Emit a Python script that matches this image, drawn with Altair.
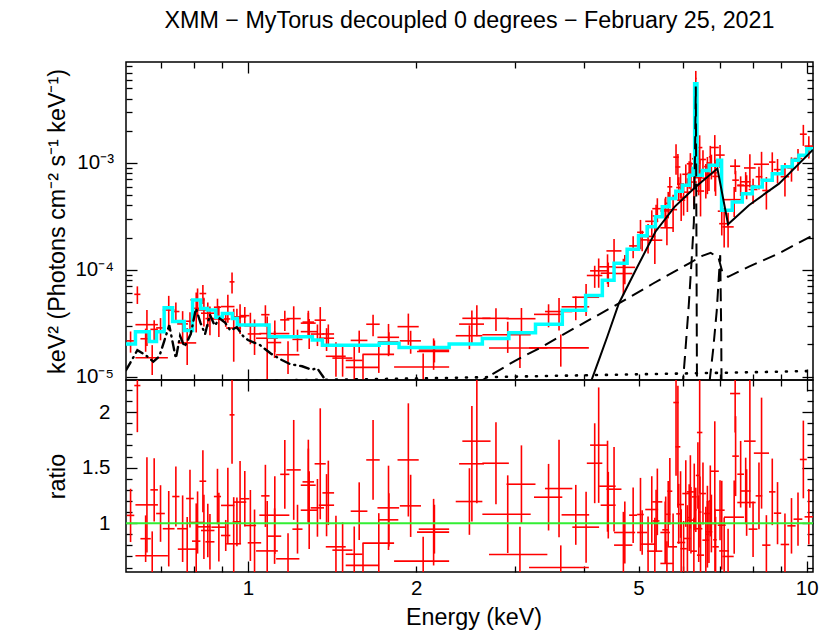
import altair as alt
import numpy as np
import pandas as pd

FONT = "Liberation Sans"
TITLE = "XMM \u2212 MyTorus decoupled 0 degrees \u2212 February 25, 2021"
Y_TITLE = "keV\u00b2 (Photons cm\u207b\u00b2 s\u207b\u00b9 keV\u207b\u00b9)"

# ---------------- data ----------------
# red crosses: energy bin edges (keV), data/model ratio and its error
E_LO = [0.607, 0.626, 0.629, 0.629, 0.642, 0.669, 0.685, 0.704, 0.732, 0.747,
        0.749, 0.775, 0.794, 0.789, 0.819, 0.811, 0.839, 0.824, 0.869, 0.860,
        0.895, 0.895, 0.927, 0.914, 0.939, 0.943, 0.968, 0.986, 0.999, 1.056,
        1.034, 1.048, 1.085, 1.142, 1.123, 1.172, 1.201, 1.243, 1.252, 1.243,
        1.295, 1.316, 1.339, 1.359, 1.378, 1.416, 1.496, 1.496, 1.527, 1.603,
        1.628, 1.705, 1.717, 1.852, 1.870, 1.826, 2.021, 2.007, 2.387, 2.354,
        2.419, 2.627, 2.902, 2.627, 2.700, 3.184, 3.250, 3.400, 3.641, 3.806,
        4.095, 4.040, 4.250, 4.380, 4.277, 4.520, 4.520, 4.810, 4.970, 4.970,
        5.040, 5.140, 5.180, 5.291, 5.470, 5.514, 5.470, 5.630, 5.670, 5.770,
        5.820, 5.840, 5.860, 5.860, 5.940, 5.988, 6.030, 6.100, 6.100, 6.200,
        6.230, 6.360, 6.330, 6.310, 6.310, 6.360, 6.440, 6.504, 6.550, 6.590,
        6.640, 6.730, 6.776, 6.860, 6.930, 6.970, 7.062, 7.110, 7.290, 7.357,
        7.510, 7.510, 7.720, 7.620, 7.870, 8.040, 8.100, 8.324, 8.560, 8.730,
        8.980, 9.230, 9.470, 9.720, 9.910, 6.120, 6.400, 6.600, 6.680, 6.800,
        5.600, 5.300]
E_HI = [0.626, 0.642, 0.690, 0.719, 0.670, 0.690, 0.710, 0.739, 0.754, 0.781,
        0.808, 0.800, 0.822, 0.836, 0.842, 0.857, 0.871, 0.871, 0.895, 0.914,
        0.930, 0.946, 0.946, 0.972, 0.972, 0.993, 1.006, 1.034, 1.056, 1.093,
        1.131, 1.186, 1.147, 1.186, 1.236, 1.243, 1.252, 1.322, 1.313, 1.331,
        1.368, 1.378, 1.426, 1.426, 1.496, 1.538, 1.603, 1.717, 1.636, 1.826,
        1.721, 1.864, 1.858, 2.021, 2.040, 2.291, 2.291, 2.291, 2.645, 2.627,
        2.717, 2.930, 3.270, 3.206, 3.434, 4.074, 3.652, 3.806, 4.080, 4.250,
        4.390, 4.307, 4.550, 4.660, 4.550, 4.930, 4.874, 4.970, 5.110, 5.180,
        5.360, 5.420, 5.514, 5.514, 5.690, 5.670, 5.770, 5.746, 5.860, 5.900,
        5.940, 5.960, 6.060, 6.030, 6.100, 6.160, 6.200, 6.280, 6.310, 6.360,
        6.350, 6.504, 6.440, 6.350, 6.504, 6.550, 6.600, 6.690, 6.730, 6.776,
        6.860, 6.960, 6.960, 7.130, 7.160, 7.260, 7.400, 7.720, 7.600, 7.560,
        7.720, 8.100, 8.100, 7.930, 8.160, 8.560, 8.324, 8.610, 8.790, 9.000,
        9.300, 9.550, 9.820, 10.00, 10.26, 6.200, 6.480, 6.680, 6.760, 6.900,
        5.700, 5.450]
RATIO = [1.07, 2.24, 1.165, 0.706, 0.86, 1.30, 1.087, 0.95, 1.24, 0.95,
         0.766, 1.222, 0.838, 1.006, 1.378, 0.967, 0.832, 0.934, 1.24, 0.964,
         0.889, 1.16, 1.976, 0.814, 1.012, 1.19, 1.22, 0.979, 0.823, 1.246,
         0.75, 1.072, 0.883, 1.44, 0.679, 1.48, 0.946, 1.342, 1.372, 1.117,
         1.138, 1.535, 1.162, 1.273, 0.787, 0.757, 0.72, 0.62, 1.108, 0.82,
         1.57, 1.138, 1.03, 1.57, 1.156, 0.658, 0.946, 0.919, 1.535, 1.195,
         1.739, 1.54, 1.351, 1.081, 0.718, 0.60, 1.234, 1.312, 1.075, 0.964,
         1.703, 1.54, 1.333, 1.306, 1.162, 0.916, 0.802, 1.072, 1.078, 0.916,
         0.811, 1.123, 0.748, 1.192, 0.916, 0.94, 0.637, 1.288, 0.787, 2.087,
         1.688, 1.084, 0.826, 1.168, 0.77, 1.267, 0.862, 1.282, 1.027, 0.748,
         1.237, 1.817, 1.43, 1.12, 0.95, 0.712, 1.267, 0.847, 1.087, 0.922,
         0.997, 1.468, 0.787, 1.117, 0.982, 0.75, 0.70, 1.054, 2.168, 1.604,
         1.441, 1.186, 1.739, 1.29, 0.946, 1.631, 1.246, 0.802, 1.282, 1.09,
         0.808, 0.976, 1.036, 1.574, 1.057, 1.05, 1.10, 0.90, 1.20, 0.85,
         1.08, 1.02]
RATIO_ERR = [0.24, 0.42, 0.43, 0.22, 0.21, 0.285, 0.255, 0.34, 0.27, 0.30,
             0.29, 0.26, 0.34, 0.28, 0.28, 0.29, 0.25, 0.24, 0.25, 0.31,
             0.14, 0.34, 0.44, 0.42, 0.22, 0.37, 0.25, 0.32, 0.30, 0.28,
             0.45, 0.35, 0.25, 0.31, 0.23, 0.45, 0.22, 0.33, 0.38, 0.35,
             0.26, 0.50, 0.28, 0.29, 0.28, 0.25, 0.25, 0.20, 0.26, 0.27,
             0.36, 0.38, 0.24, 0.51, 0.28, 0.22, 0.22, 0.30, 0.52, 0.30,
             0.56, 0.37, 0.35, 0.35, 0.25, 0.20, 0.30, 0.44, 0.27, 0.32,
             0.52, 0.36, 0.41, 0.38, 0.30, 0.28, 0.30, 0.25, 0.33, 0.20,
             0.25, 0.30, 0.30, 0.30, 0.28, 0.30, 0.20, 0.30, 0.30, 0.66,
             0.55, 0.27, 0.30, 0.30, 0.25, 0.30, 0.30, 0.33, 0.30, 0.30,
             0.30, 0.55, 0.30, 0.20, 0.30, 0.30, 0.28, 0.30, 0.25, 0.28,
             0.26, 0.45, 0.27, 0.27, 0.40, 0.30, 0.25, 0.33, 0.35, 0.36,
             0.30, 0.30, 0.60, 0.30, 0.25, 0.50, 0.30, 0.27, 0.30, 0.28,
             0.28, 0.25, 0.24, 0.35, 0.25, 0.30, 0.32, 0.30, 0.32, 0.28,
             0.30, 0.28]

# cyan total model (step function): bin edges and values
MODEL_EDGES = [0.605, 0.629, 0.666, 0.686, 0.708, 0.733, 0.769, 0.796, 0.823, 0.846,
               0.876, 0.900, 0.938, 0.957, 1.091, 1.304, 1.359, 1.717, 1.864, 2.291,
               2.627, 2.930, 3.270, 3.652, 4.020, 4.307, 4.520, 4.770, 5.000, 5.180,
               5.360, 5.514, 5.670, 5.830, 5.988, 6.160, 6.260, 6.300, 6.360, 6.504,
               6.690, 6.930, 7.040, 7.357, 7.667, 7.990, 8.324, 8.675, 9.041, 9.421,
               9.680, 10.00, 10.26]
MODEL_VALS = [2.02e-5, 2.63e-5, 2.13e-5, 2.63e-5, 4.42e-5, 3.28e-5, 2.70e-5, 5.20e-5, 4.35e-5, 4.20e-5,
              3.60e-5, 3.90e-5, 3.50e-5, 3.05e-5, 2.36e-5, 2.20e-5, 1.97e-5, 2.05e-5, 1.87e-5, 2.02e-5,
              2.28e-5, 2.58e-5, 3.10e-5, 4.19e-5, 5.74e-5, 8.00e-5, 1.15e-4, 1.56e-4, 2.08e-4, 2.53e-4,
              3.13e-4, 3.88e-4, 4.64e-4, 5.43e-4, 6.18e-4, 7.66e-4, 8.85e-4, 5.50e-3, 7.66e-4, 8.50e-4,
              9.50e-4, 1.06e-3, 3.60e-4, 4.30e-4, 5.16e-4, 5.96e-4, 6.88e-4, 7.94e-4, 9.20e-4, 1.06e-3,
              1.18e-3, 1.36e-3]

# model components (black)
SOLID_E = [4.05, 4.12, 4.25, 4.40, 4.61, 4.94, 5.36, 5.80, 6.33, 6.92, 7.23, 7.88, 8.92, 10.26]
SOLID_Y = [7.0e-6, 9.3e-6, 1.45e-5, 2.4e-5, 4.84e-5, 9.9e-5, 2.27e-4, 3.88e-4, 5.97e-4, 8.85e-4,
           2.67e-4, 4.02e-4, 6.4e-4, 1.33e-3]
DASH_E = [2.55, 2.63, 3.0, 3.36, 3.65, 4.0, 4.61, 5.3, 6.16, 6.5, 6.73, 6.95, 7.06, 7.23, 7.88, 8.9, 10.26]
DASH_Y = [8.5e-6, 9.3e-6, 1.4e-5, 1.9e-5, 2.45e-5, 3.2e-5, 4.84e-5, 7.4e-5, 1.15e-4, 1.35e-4,
          1.44e-4, 1.3e-4, 9.6e-5, 8.6e-5, 1.07e-4, 1.42e-4, 2.1e-4]
FEKA_E = [5.95, 6.05, 6.15, 6.22, 6.28, 6.31, 6.33, 6.345, 6.36, 6.38]
FEKA_Y = [5e-6, 1.48e-5, 4.7e-5, 1.19e-4, 2.8e-4, 1.2e-3, 5.2e-3, 3e-4, 1e-5, 3e-6]
FEKB_E = [6.70, 6.80, 6.90, 6.97, 7.00, 7.03, 7.045]
FEKB_Y = [9e-6, 1.8e-5, 4.1e-5, 9.6e-5, 1.37e-4, 2.5e-5, 3e-6]
DOT_E = [0.605, 1.0, 1.38, 2.0, 3.0, 4.0, 6.0, 8.0, 10.26]
DOT_Y = [8.8e-6, 9.15e-6, 9.35e-6, 9.6e-6, 1.0e-5, 1.03e-5, 1.07e-5, 1.1e-5, 1.13e-5]
DASHDOT_E = [0.605, 0.615, 0.634, 0.655, 0.677, 0.694, 0.708, 0.723, 0.743, 0.756,
             0.770, 0.790, 0.807, 0.822, 0.838, 0.855, 0.872, 0.890, 0.910, 0.930,
             0.955, 0.980, 1.0, 1.05, 1.10, 1.15, 1.19, 1.25, 1.30, 1.33, 1.37, 1.42]
DASHDOT_Y = [1.15e-5, 1.33e-5, 1.77e-5, 1.6e-5, 1.38e-5, 1.55e-5, 2.14e-5, 3.03e-5, 1.48e-5, 2.4e-5,
             1.9e-5, 2.5e-5, 4.35e-5, 3.2e-5, 2.5e-5, 3.8e-5, 3.0e-5, 3.5e-5, 3.2e-5, 2.7e-5,
             2.9e-5, 2.4e-5, 2.2e-5, 1.98e-5, 1.64e-5, 1.43e-5, 1.31e-5, 1.25e-5, 1.16e-5, 1.2e-5,
             9.6e-6, 8.0e-6]

# axes
X_DOMAIN = [0.605, 10.26]
Y_DOMAIN = [9.3e-6, 8.8e-3]
R_DOMAIN = [0.56, 2.29]
X_LABELS = [1, 2, 5, 10]
X_MAJOR = [1, 10]
X_MINOR = [0.7, 0.8, 0.9, 2, 3, 4, 5, 6, 7, 8, 9]
Y_MAJOR = [1e-5, 1e-4, 1e-3]
Y_MINOR = [2e-5, 3e-5, 4e-5, 5e-5, 6e-5, 7e-5, 8e-5, 9e-5,
           2e-4, 3e-4, 4e-4, 5e-4, 6e-4, 7e-4, 8e-4, 9e-4,
           2e-3, 3e-3, 4e-3, 5e-3, 6e-3, 7e-3, 8e-3]
R_MAJOR = [1.0, 1.5, 2.0]
R_MINOR = [0.6, 0.7, 0.8, 0.9, 1.1, 1.2, 1.3, 1.4, 1.6, 1.7, 1.8, 1.9, 2.1, 2.2]

# ---------------- derived tables ----------------
lo = np.array(E_LO)
hi = np.array(E_HI)
r = np.array(RATIO)
re = np.array(RATIO_ERR)
c = 0.5 * (lo + hi)
edges = np.array(MODEL_EDGES)
mvals = np.array(MODEL_VALS)
idx = np.clip(np.searchsorted(edges, c, side="right") - 1, 0, len(mvals) - 1)
m = mvals[idx]
pts = pd.DataFrame({
    "lo": lo, "hi": hi, "c": c,
    "r": r, "r_lo": r - re, "r_hi": r + re,
    "f": r * m, "f_lo": np.maximum((r - re) * m, 1e-7), "f_hi": (r + re) * m,
})
model_df = pd.DataFrame({"E": MODEL_EDGES, "y": MODEL_VALS + [MODEL_VALS[-1]]})

W, H_TOP, H_BOT = 687, 318, 192
MAJ, MIN = 11, 6
LBL = 20.5
TTL = 23.3

xs = alt.Scale(type="log", domain=X_DOMAIN, nice=False)
ys = alt.Scale(type="log", domain=Y_DOMAIN, nice=False)
rs = alt.Scale(type="linear", domain=R_DOMAIN, nice=False, zero=False)


def tick_axis(orient, values, size):
    return alt.Axis(orient=orient, values=values, labels=False, ticks=True,
                    tickSize=size, offset=-size, domain=False, grid=False,
                    title=None, tickColor="black", tickWidth=1.3)


def left_label_axis(values, size, title, height, pad, **kw):
    return alt.Axis(orient="left", values=values, labels=True, ticks=True,
                    tickSize=size, offset=-size, domain=False, grid=False,
                    tickColor="black", tickWidth=1.3,
                    labelFont=FONT, labelFontSize=LBL, labelColor="black",
                    labelPadding=pad, labelFlush=False, labelOverlap=False,
                    title=title, titleFont=FONT, titleFontSize=TTL,
                    titleFontWeight="normal", titleColor="black",
                    titleX=-73, titleY=height / 2, titleAngle=-90,
                    titleAlign="center", titleBaseline="alphabetic", **kw)


def carriers(xf, yf, yscale, xaxes, yaxes):
    out = []
    for xa, ya in zip(xaxes, yaxes):
        out.append(alt.Chart(pts).mark_point(opacity=0).encode(
            x=alt.X(xf, type="quantitative", scale=xs, axis=xa),
            y=alt.Y(yf, type="quantitative", scale=yscale, axis=ya)))
    return out


def comp_line(E, Y, width=2.0, **kw):
    df = pd.DataFrame({"E": E, "y": Y})
    return alt.Chart(df).mark_line(color="black", strokeWidth=width, clip=True, **kw).encode(
        x=alt.X("E:Q", scale=xs, axis=None),
        y=alt.Y("y:Q", scale=ys, axis=None))


# ---------------- top panel ----------------
top_x_axes = [tick_axis("bottom", X_MAJOR, MAJ), tick_axis("bottom", X_MINOR, MIN),
              tick_axis("top", X_MAJOR, MAJ), tick_axis("top", X_MINOR, MIN)]
top_y_axes = [left_label_axis(Y_MAJOR, MAJ, Y_TITLE, H_TOP, 12.5,
                              labelExpr="datum.value > 5e-4 ? '10\u207b\u00b3' : (datum.value > 5e-5 ? '10\u207b\u2074' : '10\u207b\u2075')"),
              tick_axis("left", Y_MINOR, MIN),
              tick_axis("right", Y_MAJOR, MAJ), tick_axis("right", Y_MINOR, MIN)]

top_layers = carriers("c", "f", ys, top_x_axes, top_y_axes)
top_layers += [
    alt.Chart(pts).mark_rule(color="red", strokeWidth=1.6, clip=True).encode(
        x=alt.X("lo:Q", scale=xs, axis=None), x2="hi:Q",
        y=alt.Y("f:Q", scale=ys, axis=None)),
    alt.Chart(pts).mark_rule(color="red", strokeWidth=1.6, clip=True).encode(
        x=alt.X("c:Q", scale=xs, axis=None),
        y=alt.Y("f_lo:Q", scale=ys, axis=None), y2="f_hi:Q"),
    alt.Chart(model_df).mark_line(color="#00FFFF", strokeWidth=3.5, interpolate="step-after", clip=True).encode(
        x=alt.X("E:Q", scale=xs, axis=None),
        y=alt.Y("y:Q", scale=ys, axis=None)),
    comp_line(DOT_E, DOT_Y, width=2.6, strokeDash=[1, 9], strokeCap="round"),
    comp_line(DASHDOT_E, DASHDOT_Y, width=2.4, strokeDash=[9, 5, 1, 5], strokeCap="round"),
    comp_line(DASH_E, DASH_Y, strokeDash=[13, 7]),
    comp_line(FEKA_E, FEKA_Y, strokeDash=[13, 7]),
    comp_line(FEKB_E, FEKB_Y, strokeDash=[13, 7]),
    comp_line(SOLID_E, SOLID_Y),
]

top = alt.layer(*top_layers).resolve_axis(x="independent", y="independent").properties(
    width=W, height=H_TOP,
    title=alt.TitleParams(TITLE, anchor="middle", frame="group", font=FONT, fontSize=TTL,
                          fontWeight="normal", color="black", offset=28))

# ---------------- ratio panel ----------------
x_label_axis = alt.Axis(orient="bottom", values=X_LABELS, labels=True, ticks=False,
                        domain=False, grid=False, format="~g",
                        labelFont=FONT, labelFontSize=LBL, labelColor="black",
                        labelPadding=6, labelFlush=False, labelOverlap=False,
                        title="Energy (keV)", titleFont=FONT, titleFontSize=TTL,
                        titleFontWeight="normal", titleColor="black",
                        titleX=W / 2 + 4, titleY=52, titleAlign="center",
                        titleBaseline="alphabetic")
bot_x_axes = [x_label_axis, tick_axis("bottom", X_MAJOR, MAJ), tick_axis("bottom", X_MINOR, MIN),
              tick_axis("top", X_MAJOR, MAJ), tick_axis("top", X_MINOR, MIN)]
bot_y_axes = [left_label_axis(R_MAJOR, MAJ, "ratio", H_BOT, 16, format="~g"),
              tick_axis("left", R_MINOR, MIN),
              tick_axis("right", R_MAJOR, MAJ), tick_axis("right", R_MINOR, MIN), None]

bot_layers = carriers("c", "r", rs, bot_x_axes, bot_y_axes)
bot_layers += [
    alt.Chart(pts).mark_rule(color="red", strokeWidth=1.6, clip=True).encode(
        x=alt.X("lo:Q", scale=xs, axis=None), x2="hi:Q",
        y=alt.Y("r:Q", scale=rs, axis=None)),
    alt.Chart(pts).mark_rule(color="red", strokeWidth=1.6, clip=True).encode(
        x=alt.X("c:Q", scale=xs, axis=None),
        y=alt.Y("r_lo:Q", scale=rs, axis=None), y2="r_hi:Q"),
    alt.Chart(pd.DataFrame({"one": [1.0]})).mark_rule(color="#33EE33", strokeWidth=2).encode(
        y=alt.Y("one:Q", scale=rs, axis=None)),
]
bot = alt.layer(*bot_layers).resolve_axis(x="independent", y="independent").properties(
    width=W, height=H_BOT)

chart = alt.vconcat(top, bot, spacing=0, bounds="flush").properties(
    padding={"left": 36, "top": 0, "right": 5, "bottom": 0}
).configure_view(stroke="black", strokeWidth=1.5)

chart.save("out.html", embed_options={"renderer": "svg", "actions": False})
